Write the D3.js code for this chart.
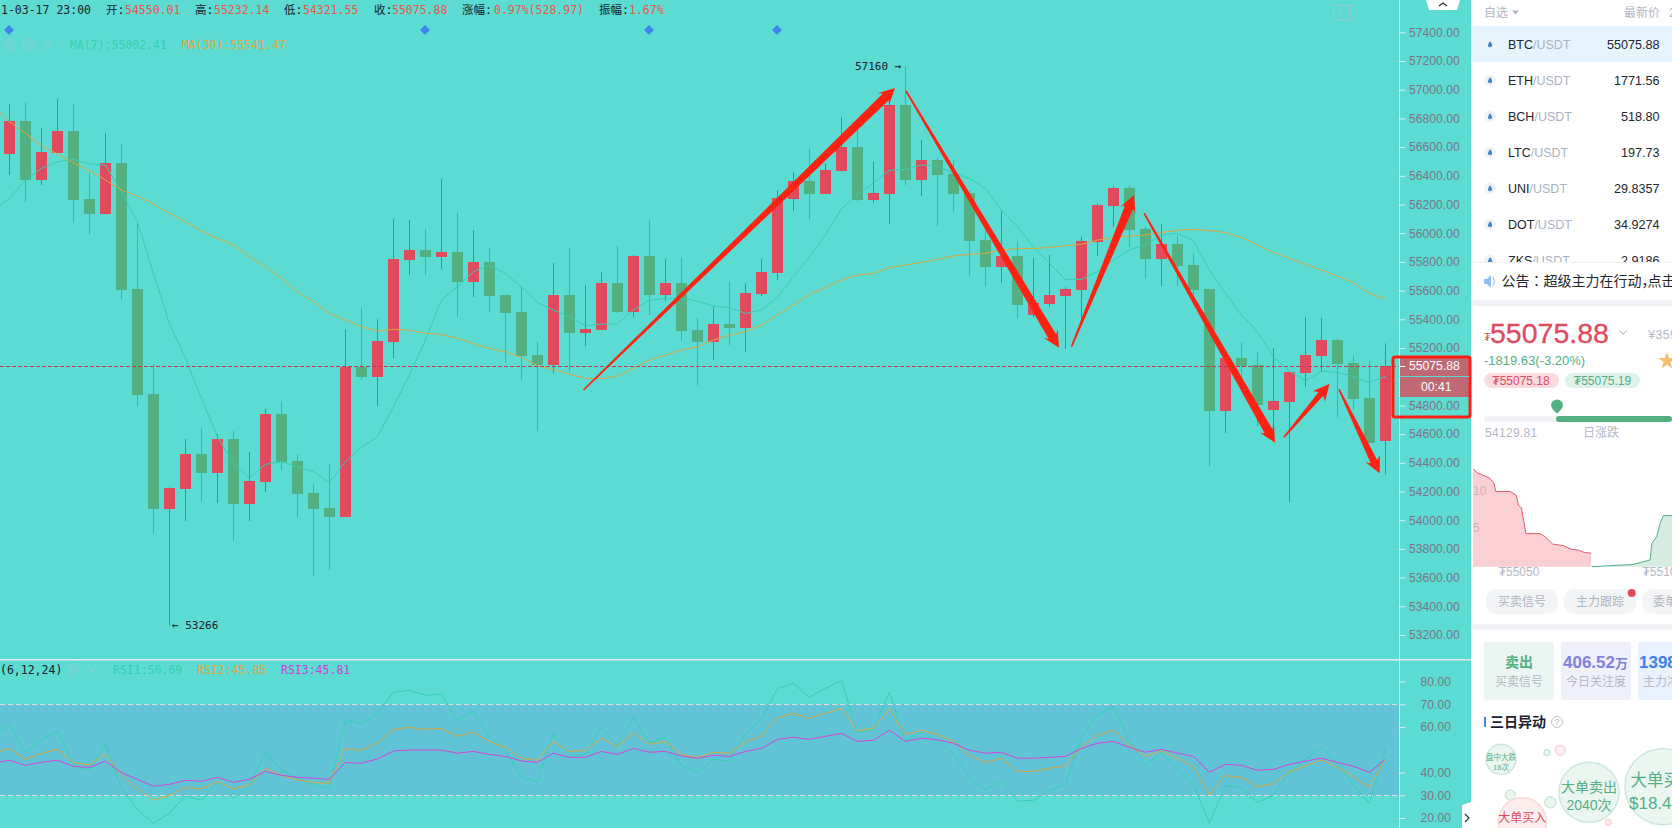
<!DOCTYPE html>
<html><head><meta charset="utf-8">
<style>html,body{margin:0;padding:0;background:#fff;overflow:hidden}svg{display:block}
text{font-family:"Liberation Sans","Noto Sans CJK SC",sans-serif}
.mono{font-family:"DejaVu Sans Mono","Noto Sans CJK SC",monospace;font-size:11.5px}
.cjk{font-family:"Noto Sans CJK SC",sans-serif}</style>
<script src="https://cdn.jsdelivr.net/npm/d3@7/dist/d3.min.js"></script></head><body>
<script>
const opens=[56552,56782,56371,56559,56712,56238,56134,56489,55611,54879,54078,54217,54461,54329,54566,54113,54266,54740,54412,54189,54085,54022,55070,54998,55242,55813,55883,55834,55869,55660,55799,55569,55451,55151,55081,55569,55304,55325,55653,55451,55841,55569,55653,55325,55242,55367,55339,55576,55722,56238,56364,56273,56433,56601,56231,56273,56893,56371,56510,56412,56280,55952,55764,55841,55430,55506,55562,55604,55938,56189,56315,56029,55820,55925,55778,55611,54761,55130,55081,54768,54823,55026,55144,55255,55095,54851,54550.01];
const closes=[56782,56371,56566,56712,56231,56134,56489,55604,54872,54078,54224,54461,54329,54566,54113,54273,54740,54405,54182,54078,54022,55070,54998,55249,55820,55883,55834,55869,55660,55799,55562,55444,55144,55081,55569,55307,55332,55653,55451,55841,55569,55653,55318,55242,55367,55339,55581,55729,56245,56364,56273,56440,56601,56231,56280,56893,56371,56510,56405,56273,55945,55764,55841,55499,55513,55569,55611,55945,56196,56315,56022,55820,55925,55771,55604,54761,55130,55074,54803,54830,55033,55151,55255,55088,54844,54538,55075.88];
const highs=[56900,56914,56733,56935,56900,56419,56698,56626,56085,55086,54229,54566,54642,54600,54621,54475,54775,54830,54461,54252,54391,55330,55479,55400,56099,56092,56029,56378,56141,56022,55897,55569,55632,55244,55792,55897,55639,55729,55911,55848,56092,55820,55827,55409,55488,55662,55650,55820,56301,56424,56587,56487,56807,56731,56498,56951,57160,56649,56529,56510,56301,56022,56155,55945,55827,55848,55623,55976,56208,56329,56329,56045,56064,55985,55862,55611,55130,55237,55177,55197,55033,55416,55409,55262,55149,55112,55232.14];
const lows=[56405,56217,56336,56559,56071,55990,56134,55541,54796,53910,53266,53994,54133,54120,53855,53994,54196,54350,54022,53611,53653,54022,54977,54796,55130,55709,55709,55750,55416,55555,55451,55098,54977,54621,55023,55035,55214,55325,55444,55413,55430,55527,55249,54942,55116,55221,55169,55562,55674,56155,56099,56273,56433,56224,56210,56064,56336,56257,56050,56148,55702,55632,55653,55409,55413,55485,55193,55383,55841,56043,55904,55688,55632,55632,55569,54373,54607,54907,54652,54582,54127,54928,55035,54719,54768,54538,54321.55];
// moving averages: first value belongs to the bar just left of the visible window
const ma7=[56162,56243,56371,56452,56498,56515,56482,56475,56289,56080,55720,55372,55128,54849,54582,54396,54292,54389,54408,54373,54338,54264,54408,54507,54580,54791,55012,55256,55534,55627,55732,55778,55720,55627,55516,55465,55418,55355,55367,55367,55465,55534,55546,55546,55527,55492,55481,55441,55465,55551,55697,55836,55987,56173,56266,56352,56438,56445,56475,56470,56417,56382,56312,56162,56045,55906,55790,55678,55678,55732,55813,55883,55922,55987,55999,55948,55743,55581,55430,55314,55139,55039,54970,55039,55030,55000,54960,55002.41];
const ma30=[56882,56777,56696,56610,56552,56491,56436,56371,56301,56259,56203,56138,56080,56017,55964,55918,55836,55767,55685,55592,55523,55441,55395,55348,55318,55330,55325,55302,55295,55267,55232,55197,55174,55135,55077,55051,55019,54988,54986,55005,55058,55116,55151,55186,55207,55256,55290,55314,55360,55430,55499,55574,55622,55674,55709,55720,55760,55778,55797,55818,55841,55853,55860,55883,55894,55894,55901,55913,55922,55952,55969,55980,55987,56006,56020,56027,56018,56004,55971,55918,55866,55825,55783,55743,55701,55655,55581,55541.47];
const rsi1=[55.8,61.1,48.9,54.3,58.3,43.3,41.1,52.7,33.1,23.8,17.7,22.1,29.7,27.8,36.0,28.8,34.5,48.9,41.1,37.5,34.5,33.1,63.4,61.2,66.0,75.3,76.2,74.0,74.5,63.0,66.9,55.5,49.9,38.1,35.7,57.1,47.1,48.0,60.2,51.8,64.1,53.0,55.5,42.9,40.1,45.8,45.0,57.2,63.4,76.9,79.2,73.1,77.0,80.5,57.5,59.0,75.3,54.0,57.8,53.6,48.5,37.8,32.6,36.6,27.4,27.8,32.1,34.8,55.5,65.2,69.1,54.0,43.2,48.8,41.9,35.0,17.7,34.4,33.5,26.9,30.0,40.4,45.8,51.1,43.8,34.5,26.5,50.69];
const rsi2=[48.5,50.6,45.8,48.5,50.2,44.4,43.3,48.3,38.9,33.1,27.8,30.0,33.4,32.8,36.1,32.8,34.7,41.9,38.9,36.7,35.7,35.1,50.6,49.8,53.0,58.9,59.9,59.0,59.4,55.9,57.7,53.6,51.2,46.3,45.4,53.6,49.2,49.8,55.2,51.5,57.7,52.4,53.7,48.0,46.6,48.9,48.5,53.4,56.1,64.1,66.0,63.9,66.0,68.2,58.3,59.6,67.9,56.7,58.6,56.8,53.7,47.7,44.4,46.3,40.5,40.5,41.9,43.0,51.1,56.4,58.6,52.1,47.1,49.5,46.3,42.6,30.4,38.6,37.9,33.8,35.1,40.4,42.9,45.5,42.3,38.2,33.5,45.85];
const rsi3=[44.1,45.4,43.2,44.5,45.4,42.7,42.3,45.0,40.0,37.0,34.0,34.8,36.6,36.1,37.9,35.7,37.0,40.5,38.8,37.9,37.5,37.0,44.4,44.1,46.0,49.5,49.9,49.9,49.9,48.5,49.3,48.0,47.1,45.1,44.5,48.5,46.7,46.7,49.3,48.0,50.6,48.9,49.3,47.3,46.3,47.6,47.1,49.3,50.6,54.6,55.5,54.6,55.9,57.2,53.7,54.2,58.6,53.7,55.1,54.4,52.9,49.8,48.5,48.9,46.3,46.3,46.7,47.1,50.6,52.9,53.7,51.1,48.9,50.2,48.5,47.1,40.1,43.6,43.2,41.0,41.4,43.6,45.0,46.3,44.5,42.7,40.1,45.81];
const priceTicks=[57400,57200,57000,56800,56600,56400,56200,56000,55800,55600,55400,55200,55000,54800,54600,54400,54200,54000,53800,53600,53400,53200];
const rsiTicks=[80,70,60,40,30,20];
// hand-drawn trend arrows, as bar index and price
const arrowFromBar=[35.88,56.04,66.38,70.92,79.66,83.1];
const arrowFromPrice=[54907,56991,55209,56139,54578,54912];
const arrowToBar=[55.35,65.6,70.29,79.1,82.5,85.64];
const arrowToPrice=[57012,55202,56266,54540,54949,54327];
const markerXs=[9,425,649,777];
const watchSymbols=["BTC","ETH","BCH","LTC","UNI","DOT","ZKS"];
const watchPrices=["55075.88","1771.56","518.80","197.73","29.8357","34.9274","2.9186"];
const bidPrices=[55034,55035.5,55039.7,55041.3,55041.9,55046.9,55049,55049.8,55050.8,55052.4,55057.3,55059,55061.7,55065.4,55068.3,55070.6,55072.6,55075];
const bidDepth=[13,12.5,11.8,11.1,10,10,9.5,8.2,7.8,4.4,4.4,4,3,2.8,2.3,2.2,1.9,1.8];
const askPrices=[55075.2,55089.7,55095.5,55096.1,55097.8,55099,55100.1,55103.1];
const askDepth=[0,0.3,0.9,3.1,4,5.8,6.8,6.8];

const RED="#e14a5d",GREEN="#52b083",TEAL="#5cdbd3";
const svg=d3.select("body").append("svg").attr("width",1672).attr("height",828);
svg.append("rect").attr("width",1672).attr("height",828).attr("fill","#fff");
const plotW=1471;
svg.append("rect").attr("width",plotW).attr("height",828).attr("fill",TEAL);
const defs=svg.append("defs");
defs.append("clipPath").attr("id","pc").append("rect").attr("width",1400).attr("height",828);
defs.append("clipPath").attr("id","sc").append("rect").attr("x",1471).attr("width",201).attr("height",262);
defs.append("clipPath").attr("id","rc").append("rect").attr("x",1471).attr("width",201).attr("height",828);

const x=d3.scaleLinear().domain([0,86]).range([9.4,1385.4]);
const y=d3.scaleLinear().domain([57400,53200]).range([32.3,635]);
const yr=d3.scaleLinear().domain([70,30]).range([704.3,795.3]);
const plot=svg.append("g").attr("clip-path","url(#pc)");

// RSI band + dashes
plot.append("rect").attr("x",0).attr("width",1400).attr("y",yr(70)).attr("height",yr(30)-yr(70)).attr("fill","#60c4d6");
plot.selectAll(".rl").data([70,30]).join("line").attr("x1",0).attr("x2",1400).attr("y1",d=>Math.round(yr(d))+.5).attr("y2",d=>Math.round(yr(d))+.5)
  .attr("stroke","#e2dcdc").attr("stroke-dasharray","5,3");

// candles
const bars=d3.range(opens.length);
const col=i=>closes[i]>=opens[i]?RED:GREEN;
plot.selectAll(".w").data(bars).join("rect").attr("x",i=>Math.round(x(i))).attr("width",1)
  .attr("y",i=>y(highs[i])).attr("height",i=>y(lows[i])-y(highs[i])).attr("fill",col);
plot.selectAll(".b").data(bars).join("rect").attr("x",i=>Math.round(x(i))-5).attr("width",11)
  .attr("y",i=>Math.round(y(Math.max(opens[i],closes[i])))).attr("height",i=>Math.max(1,Math.round(Math.abs(y(opens[i])-y(closes[i])))))
  .attr("fill",col);

// lines
const lineOf=s=>d3.line().x((d,i)=>x(i-1)).y(d=>s(d));
const ln=(d,s,c,o)=>plot.append("path").attr("d",lineOf(s)(d)).attr("fill","none").attr("stroke",c).attr("stroke-width",1).attr("stroke-opacity",o||1);
ln(ma7,y,"#36cfae");ln(ma30,y,"#dca83c");
ln(rsi1,yr,"#36cfae");ln(rsi2,yr,"#dca83c");ln(rsi3,yr,"#d444d8",1);

// current price dashed
svg.append("line").attr("x1",0).attr("x2",1400).attr("y1",Math.round(y(closes[86]))+.5).attr("y2",Math.round(y(closes[86]))+.5)
  .attr("stroke","#c23a4c").attr("stroke-dasharray","4,2");

// arrows
const arrowG=svg.append("g");
arrowFromBar.forEach((b,i)=>{
  const a=[x(b),y(arrowFromPrice[i])],t=[x(arrowToBar[i]),y(arrowToPrice[i])];
  const L=Math.hypot(t[0]-a[0],t[1]-a[1]),d=[(t[0]-a[0])/L,(t[1]-a[1])/L],n=[-d[1],d[0]];
  const hl=13,hs=16,hw=8,sw=L>150?4.4:(L>90?3.6:3),tw=0.8;
  const P=(l,w)=>[t[0]-d[0]*l+n[0]*w,t[1]-d[1]*l+n[1]*w];
  const Q=w=>[a[0]+n[0]*w,a[1]+n[1]*w];
  arrowG.append("path").attr("d",d3.line()([Q(tw),P(hl,sw),P(hs,hw),t,P(hs,-hw),P(hl,-sw),Q(-tw)])+"Z").attr("fill","#ff2212");
});

// markers
svg.selectAll(".dm").data(markerXs).join("path")
  .attr("d",cx=>`M${cx},25L${cx+5},30L${cx},35L${cx-5},30Z`).attr("fill","#3f87f0");

// header text
const T=(g,s,xx,yy,c,cls,extra)=>{const e=g.append("text").attr("x",xx).attr("y",yy).attr("dy","0.35em").attr("fill",c).text(s);if(cls)e.attr("class",cls);if(extra)Object.entries(extra).forEach(([k,v])=>e.style(k,v));return e;};
const DK="#14202a",VAL="#ec5548";
[["1-03-17 23:00",1,DK],["开:",106,DK],["54550.01",125,VAL],["高:",195,DK],["55232.14",214,VAL],["低:",284,DK],["54321.55",303,VAL],["收:",374,DK],["55075.88",392,VAL],["涨幅:",462,DK],["0.97%(528.97)",494,VAL],["振幅:",599,DK],["1.67%",629,VAL]].forEach(r=>T(svg,r[0],r[1],9.5,r[2],"mono"));
T(svg,"MA(7):55002.41",70,45,"#36cfae","mono");T(svg,"MA(30):55541.47",182,45,"#e0a83c","mono");
T(svg,"(6,12,24)",0,669.5,DK,"mono");T(svg,"RSI1:50.69",113,669.5,"#36cfae","mono");T(svg,"RSI2:45.85",197,669.5,"#dca83c","mono");T(svg,"RSI3:45.81",281,669.5,"#c93fd8","mono");
// ghost icons
const ghost="#93cfd0";
[[10,45],[29,45],[73,669.5]].forEach(p=>{svg.append("circle").attr("cx",p[0]).attr("cy",p[1]).attr("r",5.5).attr("fill","none").attr("stroke",ghost);svg.append("circle").attr("cx",p[0]).attr("cy",p[1]).attr("r",2).attr("fill","none").attr("stroke",ghost);});
[[48,45],[92,669.5]].forEach(p=>svg.append("path").attr("d",`M${p[0]-4},${p[1]-4}L${p[0]+4},${p[1]+4}M${p[0]+4},${p[1]-4}L${p[0]-4},${p[1]+4}`).attr("stroke",ghost).attr("fill","none"));
svg.append("rect").attr("x",1333.5).attr("y",5.5).attr("width",17).attr("height",14).attr("fill","none").attr("stroke","#9cc6d2");
svg.append("path").attr("d","M1337,10h5M1337,13h3M1337,16h5").attr("stroke","#9cc6d2").attr("fill","none");
// high/low labels
svg.append("text").attr("class","mono").attr("x",855).attr("y",66).attr("dy","0.35em").attr("fill",DK).style("font-size","11px").text("57160 →");
svg.append("text").attr("class","mono").attr("x",172).attr("y",625).attr("dy","0.35em").attr("fill",DK).style("font-size","11px").text("← 53266");

// separators
svg.append("rect").attr("x",0).attr("y",659).attr("width",plotW).attr("height",1.5).attr("fill","#e4e8e8");
svg.append("rect").attr("x",1399).attr("y",0).attr("width",1).attr("height",828).attr("fill","#dcecec");

// axes
const styleAx=(g,tx)=>{g.select(".domain").remove();g.selectAll(".tick line").attr("stroke","#e6ecec");
  g.selectAll(".tick text").attr("x",tx).attr("text-anchor","start").attr("dy","0.32em").attr("fill","#7a7685").style("font-family",'"Liberation Sans"').style("font-size","12px").style("letter-spacing","0.1px");};
const ax=svg.append("g").attr("transform","translate(1400,0)").call(d3.axisRight(y).tickValues(priceTicks).tickFormat(d3.format(".2f")).tickSize(5));
styleAx(ax,9);
const axr=svg.append("g").attr("transform","translate(1400,0)").call(d3.axisRight(yr).tickValues(rsiTicks).tickFormat(d3.format(".2f")).tickSize(5));
styleAx(axr,20.5);
// top/bottom tabs
svg.append("path").attr("d","M1426,0L1429,10H1457L1460,0Z").attr("fill","#fff");
svg.append("path").attr("d","M1439,6L1443,3L1447,6").attr("fill","none").attr("stroke","#333").attr("stroke-width",1.2);
svg.append("path").attr("d","M1471,802L1462,805V828H1471Z").attr("fill","#fff");
svg.append("path").attr("d","M1465,814L1469,818L1465,822").attr("fill","none").attr("stroke","#333").attr("stroke-width",1.2);
// price tag
svg.append("rect").attr("x",1400).attr("y",356).attr("width",70).attr("height",41).attr("fill","#c8606d").attr("fill-opacity",.92);
svg.append("rect").attr("x",1393).attr("y",357).attr("width",77).attr("height",60).attr("rx",2).attr("fill","none").attr("stroke","#ff1f10").attr("stroke-width",3);
svg.append("rect").attr("x",1400).attr("y",376).attr("width",69).attr("height",1).attr("fill",TEAL);
svg.append("rect").attr("x",1400).attr("y",366).attr("width",5).attr("height",1).attr("fill","#fff");
T(svg,"55075.88",1409,365.5,"#fff",null,{"font-size":"12.2px"});
T(svg,"00:41",1421,387,"#fff",null,{"font-size":"12.2px"});

// ===== right panel
const R=svg.append("g").attr("clip-path","url(#rc)");
const GR="#b0b6c4",F=(g,s,xx,yy,c,fs,o)=>{const e=g.append("text").attr("x",xx).attr("y",yy).attr("dy","0.35em").attr("fill",c).style("font-size",fs+"px").text(s);if(o)Object.entries(o).forEach(([k,v])=>e.style(k,v));return e;};
const AN=(e,a)=>e.attr("text-anchor",a);
F(R,"自选",1484,12.5,GR,12);R.append("path").attr("d","M1512,10.5h7l-3.5,4Z").attr("fill",GR);
AN(F(R,"最新价",1660,12.5,GR,12),"end");F(R,"2",1669,12.5,GR,12);
const list=svg.append("g").attr("clip-path","url(#sc)");
list.append("rect").attr("x",1471).attr("y",26).attr("width",201).attr("height",36).attr("fill","#e6f4fd");
watchSymbols.forEach((s,i)=>{
  const yy=44.5+i*36;
  list.append("circle").attr("cx",1490).attr("cy",yy).attr("r",6).attr("fill","#f1f2f6");
  list.append("path").attr("d",`M1490,${yy-3.5}c2,2.5 2.5,3.5 2,5c-.5,1.5 -3.5,1.5 -4,0c-.4,-1.5 1,-3 2,-5Z`).attr("fill","#3f87d0");
  const t=list.append("text").attr("x",1508).attr("y",yy).attr("dy","0.35em").style("font-size","12.5px");
  t.append("tspan").attr("fill","#23262e").text(s);t.append("tspan").attr("fill","#aab3c5").text("/USDT");
  list.append("text").attr("x",1659.5).attr("y",yy).attr("dy","0.35em").attr("text-anchor","end").attr("fill","#23262e").style("font-size","12.6px").text(watchPrices[i]);
});
R.append("rect").attr("x",1471).attr("y",262).attr("width",201).attr("height",1).attr("fill","#eef0f3");
R.append("path").attr("d","M1484,279h3l4,-4v13l-4,-4h-3Z").attr("fill","#8fbcf8");
R.append("path").attr("d","M1493,277q3,4.5 0,9").attr("fill","none").attr("stroke","#8fbcf8");
const notice=F(R,"",1501.5,281.5,"#23262e",14,{"font-family":"Noto Sans CJK SC"});
notice.append("tspan").text("公告");notice.append("tspan").style("font-family","Noto Sans CJK TC").text("：");notice.append("tspan").text("超级主力在行动");
notice.append("tspan").style("letter-spacing","-8px").text("，");notice.append("tspan").text("点击");
R.append("rect").attr("x",1471).attr("y",300).attr("width",201).attr("height",6).attr("fill","#f1f2f6");
F(R,"₮",1484,337,RED,11);
F(R,"55075.88",1490,333,RED,28.5,{"stroke":RED,"stroke-width":"0.3px"});
R.append("path").attr("d","M1619,330.5l4,3.5l4,-3.5").attr("fill","none").attr("stroke","#aab");
F(R,"¥359",1648,334,"#b4bccb",13);
F(R,"-1819.63(-3.20%)",1484,360.7,"#52b083",13);
R.append("path").attr("d",d3.symbol(d3.symbolStar,100)()).attr("transform","translate(1667,361)").attr("fill","#f6bf75");
R.append("rect").attr("x",1484).attr("y",373).attr("width",75).attr("height",15).attr("rx",7.5).attr("fill","#fadcdf");
AN(F(R,"₮55075.18",1521,380.5,RED,12),"middle");
R.append("rect").attr("x",1565).attr("y",373).attr("width",75).attr("height",15).attr("rx",7.5).attr("fill","#dff1e8");
AN(F(R,"₮55075.19",1602.5,380.5,"#4fb088",12),"middle");
R.append("rect").attr("x",1484).attr("y",416).attr("width",188).attr("height",6).attr("rx",3).attr("fill","#f1f2f6");
R.append("rect").attr("x",1556).attr("y",416).attr("width",116).attr("height",6).attr("rx",3).attr("fill","#52b083");
R.append("path").attr("d","M1551,405.5a6,6 0 1 1 12,0q-1,4 -6,8q-5,-4 -6,-8Z").attr("fill","#52b083");
F(R,"54129.81",1485,433,"#b4b8c4",12,{"letter-spacing":"0.3px"});
AN(F(R,"日涨跌",1601,433,"#b4b8c4",12),"middle");
// depth
const dx=d3.scaleLinear().domain([55034,55103.1]).range([1473,1672]);
const dy=d3.scaleLinear().domain([0,10]).range([566.7,491.5]);
const ar=d3.area().x(d=>dx(d[0])).y0(dy(0)).y1(d=>dy(d[1]));
const ll=d3.line().x(d=>dx(d[0])).y(d=>dy(d[1]));
const bid=bidPrices.map((p,i)=>[p,bidDepth[i]]),ask=askPrices.map((p,i)=>[p,askDepth[i]]);
R.append("path").attr("d",ar(bid)).attr("fill","#fad0d4");R.append("path").attr("d",ll(bid)).attr("fill","none").attr("stroke","#e35a6b");
R.append("path").attr("d",ar(ask)).attr("fill","#d6ebe2");R.append("path").attr("d",ll(ask)).attr("fill","none").attr("stroke","#52b083");
F(R,"10",1473,490.7,"#c8b4bc",12);F(R,"5",1473,528,"#c8b4bc",12);
AN(F(R,"₮55050",1519,571.7,"#b4b8c4",12),"middle");F(R,"₮5510",1642.5,571.7,"#b4b8c4",12);
// pills
[[1486,"买卖信号",1522,"middle"],[1564,"主力跟踪",1600,"middle"],[1642.5,"委单",1653,"start"]].forEach(p=>{
  R.append("rect").attr("x",p[0]).attr("y",589).attr("width",72).attr("height",25).attr("rx",10).attr("fill","#f3f4f6");
  AN(F(R,p[1],p[2],601.5,"#b0b4bf",12),p[3]);
});
R.append("circle").attr("cx",1631.7).attr("cy",593).attr("r",4).attr("fill",RED);
R.append("rect").attr("x",1471).attr("y",624).attr("width",201).attr("height",6).attr("fill","#f1f2f6");
// cards
[[1484,"#ebf5f1"],[1561,"#f0f0fb"],[1638,"#e8f1fd"]].forEach(c=>R.append("rect").attr("x",c[0]).attr("y",642).attr("width",70).attr("height",58).attr("rx",3).attr("fill",c[1]));
AN(F(R,"卖出",1519,662,"#52b083",14,{"font-weight":"bold"}),"middle");
AN(F(R,"买卖信号",1519,681.7,"#b4b8c4",12),"middle");
const t2=F(R,"",1563,662,"#7f7fdf",17,{"font-weight":"bold"});t2.append("tspan").text("406.52");t2.append("tspan").style("font-size","13px").text("万");
AN(F(R,"今日关注度",1596,681.7,"#b4b8c4",12),"middle");
F(R,"1398",1639,662,"#3b82f0",17,{"font-weight":"bold"});
F(R,"主力净",1643,681.7,"#b4b8c4",12);
R.append("rect").attr("x",1484).attr("y",717).attr("width",2).attr("height",10).attr("fill","#3f87f0");
F(R,"三日异动",1490,722,"#1d2030",14,{"font-weight":"bold"});
R.append("circle").attr("cx",1557).attr("cy",722).attr("r",5.5).attr("fill","none").attr("stroke","#c0c4cc");
AN(F(R,"?",1557,722,"#b0b4bf",9),"middle");
// bubbles
const bub=(cx,cy,r,f,s,sw)=>R.append("circle").attr("cx",cx).attr("cy",cy).attr("r",r).attr("fill",f).attr("stroke",s).attr("stroke-width",sw||1.5);
const gf="#ecf6f1",gs="#cde8dc",pf="#fdeeee",ps="#fad7d9";
bub(1501,759.3,15,gf,gs);bub(1547,752.7,3,gf,gs);bub(1560.3,750.3,5,pf,ps);bub(1510.3,795,5,gf,gs);bub(1550.3,802.3,5.5,gf,gs);bub(1608.3,822.3,3,pf,ps);
bub(1589,792.3,30,gf,gs);bub(1663,786.7,38,gf,gs);bub(1522.3,821.7,24,pf,ps);
AN(F(R,"盘中大跌",1501,757,"#52b083",7.5),"middle");AN(F(R,"18次",1501,767,"#52b083",7.5),"middle");
AN(F(R,"大单卖出",1589,787,"#52b083",14),"middle");AN(F(R,"2040次",1589,805,"#52b083",14),"middle");
F(R,"大单买",1630.5,780,"#52b083",16.5);F(R,"$18.4",1629,803,"#52b083",17);
AN(F(R,"大单买入",1522.3,818,RED,12),"middle");
</script></body></html>
